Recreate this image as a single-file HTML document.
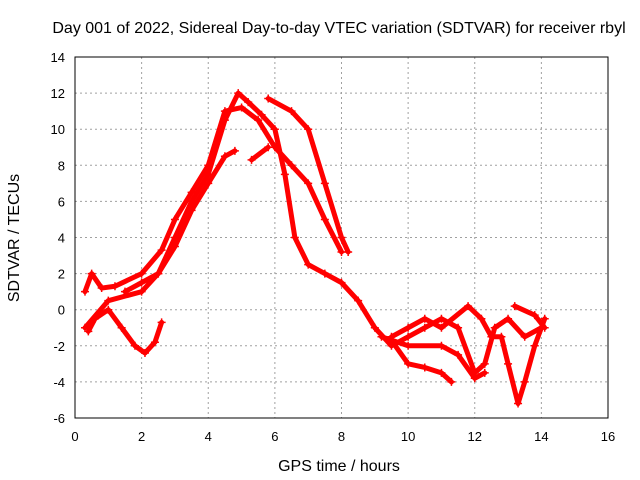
<!DOCTYPE html>
<html><head><meta charset="utf-8"><style>
body{margin:0;background:#fff;}
svg{display:block;font-family:"Liberation Sans",sans-serif;}
</style></head><body>
<svg id="chart" width="640" height="480"></svg>
<script>
const xTicks=[0,2,4,6,8,10,12,14,16];
const yTicks=[-6,-4,-2,0,2,4,6,8,10,12,14];
const trackA=[[0.4,-1.2],[0.6,-0.5],[1,0],[1.4,-1],[1.8,-2],[2.1,-2.4],[2.4,-1.8],[2.6,-0.7]];
const trackB=[[0.3,-1],[1,0.5],[2,1],[2.5,2],[3,4],[3.5,6],[4,7.5],[4.5,10.5],[4.9,12],[5.2,11.5],[5.6,10.8],[6,10],[6.3,7.5],[6.6,4],[7,2.5],[7.5,2],[8,1.5],[8.5,0.5],[9,-1],[9.5,-2],[10,-1.5],[10.5,-1],[11,-0.5],[11.5,-1],[12,-3.5],[12.3,-3],[12.6,-1],[13,-0.5],[13.5,-1.5],[14,-1]];
const trackC=[[0.3,1],[0.5,2],[0.8,1.2],[1.2,1.3],[2,2],[2.6,3.3],[3,5],[3.5,6.5],[4,8],[4.5,11],[5,11.2],[5.5,10.5],[6,9],[6.5,8],[7,7],[7.5,5],[8,3.2]];
const trackD=[[1.5,1],[2,1.5],[2.5,2],[3,3.5],[3.5,5.5],[4,7],[4.5,8.5],[4.8,8.8]];
const trackE=[[5.8,11.7],[6.5,11],[7,10],[7.5,7],[8,4],[8.2,3.2]];
const trackE2=[[5.3,8.3],[5.8,9]];
const trackF=[[9.5,-1.7],[10,-3],[10.5,-3.2],[11,-3.5],[11.3,-4]];
const trackG=[[9.2,-1.5],[10,-2],[11,-2],[11.5,-2.5],[12,-3.8],[12.3,-3.5]];
const trackH=[[9.5,-1.5],[10,-1],[10.5,-0.5],[11,-1],[11.8,0.2],[12.2,-0.5],[12.5,-1.5],[12.8,-1.5],[13,-3],[13.3,-5.2],[13.5,-4],[13.8,-2],[14.1,-0.5]];
const trackI=[[13.2,0.2],[13.8,-0.3],[14.1,-1]];
const tracks=[trackA,trackB,trackC,trackD,trackE,trackE2,trackF,trackG,trackH,trackI];
const X0=75,X1=608,Y0=418,Y1=57;
const sx=v=>X0+(v-0)/16*(X1-X0);
const sy=v=>Y0-(v+6)/20*(Y0-Y1);
const svg=document.getElementById('chart');
const NS='http://www.w3.org/2000/svg';
function mk(t,a,txt){const e=document.createElementNS(NS,t);for(const k in a)e.setAttribute(k,a[k]);if(txt!==undefined)e.textContent=txt;svg.appendChild(e);return e;}
xTicks.forEach(v=>{const x=sx(v);
 const g=mk('line',{x1:x,x2:x,y1:Y1,y2:Y0,stroke:'#a0a0a0','stroke-dasharray':'2,3'});
 
 
 const t=mk('text',{x:x,y:Y0+23,'text-anchor':'middle','font-size':13},String(v));
 
 });
yTicks.forEach(v=>{const y=sy(v);
 const g=mk('line',{x1:X0,x2:X1,y1:y,y2:y,stroke:'#a0a0a0','stroke-dasharray':'2,3'});
 
 
 const t=mk('text',{x:X0-10,y:y+5,'text-anchor':'end','font-size':13},String(v));
 
 });
const fr=mk('rect',{x:X0,y:Y1,width:X1-X0,height:Y0-Y1,fill:'none',stroke:'#000'});


tracks.forEach(tr=>{
 const p=mk('polyline',{points:tr.map(d=>sx(d[0])+','+sy(d[1])).join(' '),fill:'none',stroke:'#ff0000','stroke-width':5,'stroke-linejoin':'round','stroke-linecap':'round'});
 
 
 tr.forEach(d=>{const x=sx(d[0]),y=sy(d[1]);
  const m=mk('path',{d:`M${x-4},${y}h8M${x},${y-4}v8`,stroke:'#ff0000','stroke-width':1.5});
  
  });
});
const ti=mk('text',{x:339,y:33,'text-anchor':'middle','font-size':16},'Day 001 of 2022, Sidereal Day-to-day VTEC variation (SDTVAR) for receiver rbyl');


const xl=mk('text',{x:339,y:471,'text-anchor':'middle','font-size':16},'GPS time / hours');


const yl=mk('text',{x:0,y:0,'text-anchor':'middle','font-size':16,transform:'translate(19,238) rotate(-90)'},'SDTVAR / TECUs');


</script>
</body></html>
